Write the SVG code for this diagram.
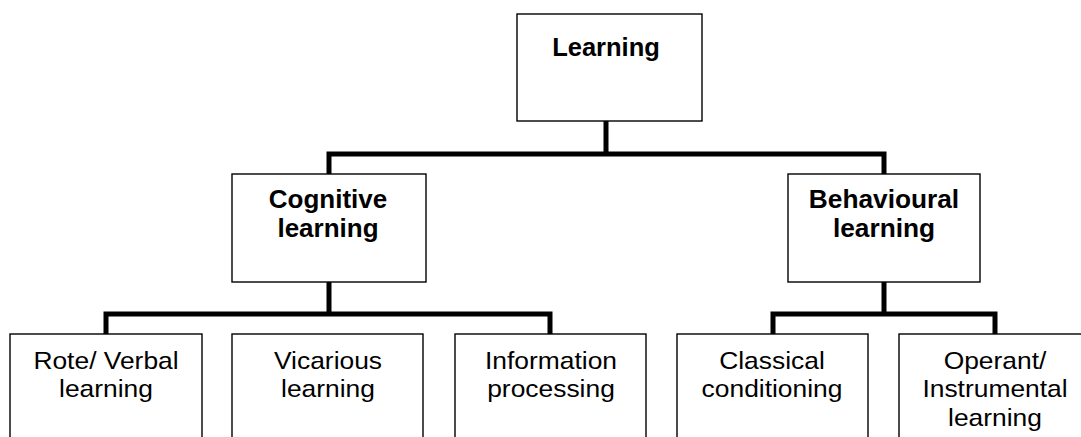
<svg xmlns="http://www.w3.org/2000/svg" width="1081" height="437" viewBox="0 0 1081 437">
  <style>
    .box { fill: #ffffff; stroke: #000000; stroke-width: 1.4; }
    .wire { fill: none; stroke: #000000; stroke-width: 5; stroke-linejoin: miter; stroke-linecap: square; }
    .t { font-family: "Liberation Sans", Arial, sans-serif; font-size: 24px; fill: #000000; text-anchor: middle; }
    .b { font-weight: bold; font-size: 25.5px; }
  </style>
  <rect width="1081" height="437" fill="#ffffff"/>

  <!-- tree connectors -->
  <g id="connectors">
    <path class="wire" d="M606,121 V154 M329,174 V154 H884 V174"/>
    <path class="wire" d="M329,282 V314 M106,334 V314 H550 V334"/>
    <path class="wire" d="M884,282 V314 M773,334 V314 H995 V334"/>
  </g>

  <g id="learning">
    <rect class="box" x="517" y="14" width="185" height="107"/>
    <text class="t b" x="606" y="56">Learning</text>
  </g>

  <g id="cognitive">
    <rect class="box" x="232" y="174" width="194" height="108"/>
    <text class="t b" transform="translate(328,208) scale(1.02,1)">Cognitive</text>
    <text class="t b" transform="translate(328,237) scale(1.02,1)">learning</text>
  </g>

  <g id="behavioural">
    <rect class="box" x="788" y="174" width="192" height="108"/>
    <text class="t b" transform="translate(884,208) scale(1.03,1)">Behavioural</text>
    <text class="t b" transform="translate(884,237) scale(1.03,1)">learning</text>
  </g>

  <!-- leaf labels are set slightly wide -->
  <g id="rote">
    <rect class="box" x="10" y="334" width="192" height="115"/>
    <text class="t" transform="translate(106,368.5) scale(1.1,1)">Rote/ Verbal</text>
    <text class="t" transform="translate(106,397) scale(1.1,1)">learning</text>
  </g>

  <g id="vicarious">
    <rect class="box" x="232" y="334" width="191" height="115"/>
    <text class="t" transform="translate(328,368.5) scale(1.1,1)">Vicarious</text>
    <text class="t" transform="translate(328,397) scale(1.1,1)">learning</text>
  </g>

  <g id="information">
    <rect class="box" x="455" y="334" width="191" height="115"/>
    <text class="t" transform="translate(551,368.5) scale(1.1,1)">Information</text>
    <text class="t" transform="translate(551,397) scale(1.1,1)">processing</text>
  </g>

  <g id="classical">
    <rect class="box" x="677" y="334" width="191" height="115"/>
    <text class="t" transform="translate(772,368.5) scale(1.1,1)">Classical</text>
    <text class="t" transform="translate(772,397) scale(1.1,1)">conditioning</text>
  </g>

  <g id="operant">
    <rect class="box" x="899" y="334" width="192" height="115"/>
    <text class="t" transform="translate(995,368.5) scale(1.1,1)">Operant/</text>
    <text class="t" transform="translate(995,397) scale(1.1,1)">Instrumental</text>
    <text class="t" transform="translate(995,425.5) scale(1.1,1)">learning</text>
  </g>
</svg>
